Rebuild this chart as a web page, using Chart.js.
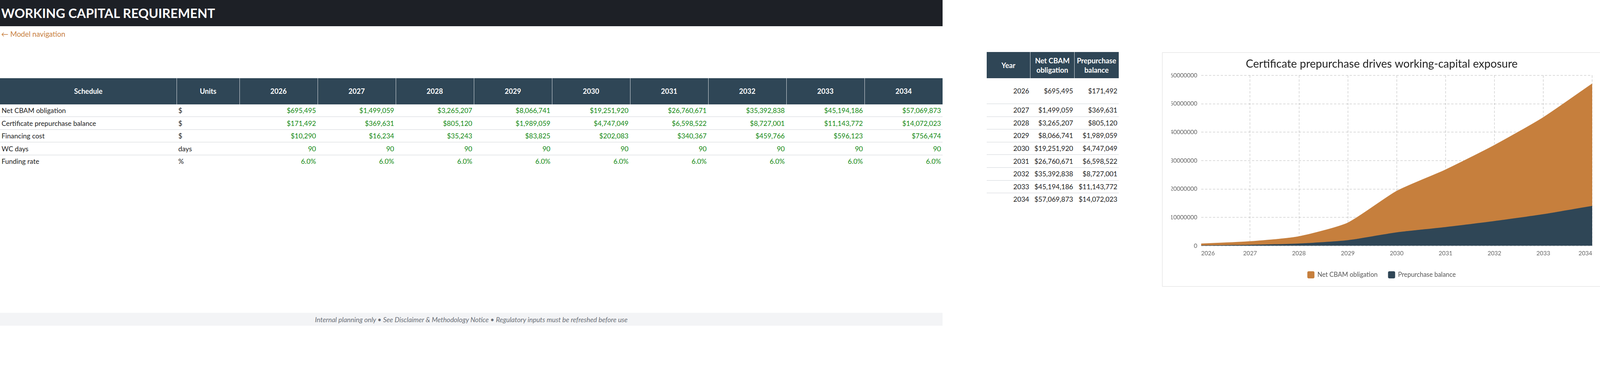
<!DOCTYPE html>
<html>
<head>
<meta charset="utf-8">
<title>Working capital requirement</title>
<script src="https://cdn.jsdelivr.net/npm/chart.js@4.4.1/dist/chart.umd.min.js"></script>
<style>
  html, body { margin: 0; padding: 0; background: #fff; }
  body { width: 4100px; height: 833px; position: relative; overflow: hidden; font-family: Lato, "Noto Sans", sans-serif; color: #222; }
  #left { position: absolute; left: 0; top: 0; width: 2413px; height: 833px; }
  #topbar { height: 66.7px; background: #1d2026; color: #fff; font-weight: 700; font-size: 33px; line-height: 66.7px; padding-left: 3px; }
  #nav { position: absolute; left: 3px; top: 76px; font-size: 18.5px; color: #c8803e; }
  table { border-collapse: collapse; table-layout: fixed; }
  #schedule { position: absolute; left: 0; top: 200px; width: 2413px; font-size: 17.5px; }
  #schedule th { height: 66.7px; background: #2f4656; color: #fff; font-weight: 700; font-size: 18px; text-align: center; padding: 0; border-left: 1.7px solid #d8dce0; }
  #schedule th:first-child { border-left: none; }
  #schedule td { height: 31.6px; padding: 0 4px; border-bottom: 1.7px solid #cfd3d8; white-space: nowrap; }
  #schedule tr:last-child td { border-bottom: none; }
  #schedule td.num { text-align: right; color: #138a13; }
  #footer { position: absolute; left: 0; top: 800px; width: 2413px; height: 33px; background: #f3f4f6; color: #6b7078; font-style: italic; font-size: 17.4px; text-align: center; line-height: 36px; }
  #summary { position: absolute; left: 2526px; top: 133.3px; width: 337.5px; font-size: 17.5px; }
  #summary th { height: 66.7px; background: #2f4656; color: #fff; font-weight: 700; font-size: 18.3px; line-height: 24px; text-align: center; padding: 0; border-left: 1.7px solid #d8dce0; }
  #summary th:first-child { border-left: none; }
  #summary td { height: 31.6px; padding: 0 3px; text-align: right; border-bottom: 1.7px solid #cfd3d8; color: #222; white-space: nowrap; }
  #summary tr.first td { height: 65px; }
  #summary tr:last-child td { border-bottom: none; }
  #panel { position: absolute; left: 2975px; top: 133.5px; width: 1121px; height: 597px; border: 1px solid #dcdcdc; background: #fff; }
  #chartBox { position: absolute; left: 0; top: 0; width: 1121px; height: 597px; }
</style>
</head>
<body>
<div id="left">
  <div id="topbar">WORKING CAPITAL REQUIREMENT</div>
  <div id="nav">&larr; Model navigation</div>
  <table id="schedule"><colgroup id="scheduleCols"></colgroup><thead></thead><tbody></tbody></table>
  <div id="footer">Internal planning only &bull; See Disclaimer &amp; Methodology Notice &bull; Regulatory inputs must be refreshed before use</div>
</div>

<table id="summary">
  <colgroup><col style="width:111.7px"><col style="width:112.5px"><col style="width:113.3px"></colgroup>
  <thead><tr><th>Year</th><th>Net CBAM<br>obligation</th><th>Prepurchase<br>balance</th></tr></thead>
  <tbody></tbody>
</table>

<div id="panel"><div id="chartBox"><canvas id="wcChart"></canvas></div></div>

<script>
// --------------- data -----------------------
const years = ['2026', '2027', '2028', '2029', '2030', '2031', '2032', '2033', '2034'];
const netCbam = [695495, 1499059, 3265207, 8066741, 19251920, 26760671, 35392838, 45194186, 57069873];
const prepurchase = [171492, 369631, 805120, 1989059, 4747049, 6598522, 8727001, 11143772, 14072023];
const financingCost = [10290, 16234, 35243, 83825, 202083, 340367, 459766, 596123, 756474];
const wcDays = [90, 90, 90, 90, 90, 90, 90, 90, 90];
const fundingRate = [0.06, 0.06, 0.06, 0.06, 0.06, 0.06, 0.06, 0.06, 0.06];
const yTicks = [0, 10000000, 20000000, 30000000, 40000000, 50000000, 60000000];

const chartTitle = 'Certificate prepurchase drives working-capital exposure';
const seriesNames = ['Net CBAM obligation', 'Prepurchase balance'];

const orange = '#c67f3d';
const slate = '#2f4656';

const money = v => '$' + v.toLocaleString('en-US');
const pct = v => (v * 100).toFixed(1) + '%';

// --------------- schedule table -----------------------
const scheduleRows = [
    ['Net CBAM obligation', '$', netCbam, money],
    ['Certificate prepurchase balance', '$', prepurchase, money],
    ['Financing cost', '$', financingCost, money],
    ['WC days', 'days', wcDays, v => String(v)],
    ['Funding rate', '%', fundingRate, pct]
];

let cols = '<col style="width:452.5px"><col style="width:160.5px">';
let head = '<tr><th>Schedule</th><th>Units</th>';
for (let y of years) {
    cols += '<col style="width:200px">';
    head += '<th>' + y + '</th>';
}
document.getElementById('scheduleCols').innerHTML = cols;
document.querySelector('#schedule thead').innerHTML = head + '</tr>';

let body = '';
for (let row of scheduleRows) {
    body += '<tr><td>' + row[0] + '</td><td>' + row[1] + '</td>';
    for (let v of row[2]) {
        body += '<td class="num">' + row[3](v) + '</td>';
    }
    body += '</tr>';
}
document.querySelector('#schedule tbody').innerHTML = body;

// --------------- summary table -----------------------
let sum = '';
years.forEach((y, i) => {
    sum += '<tr' + (i === 0 ? ' class="first"' : '') + '><td>' + y + '</td><td>' +
        money(netCbam[i]) + '</td><td>' + money(prepurchase[i]) + '</td></tr>';
});
document.querySelector('#summary tbody').innerHTML = sum;

// --------------- chart -----------------------
Chart.defaults.font.family = 'Lato';
Chart.defaults.color = '#666';

const gridColor = 'rgba(0,0,0,0.18)';

const ctx = document.getElementById('wcChart').getContext('2d');
const wcChart = new Chart(ctx, {
    type: 'line',
    data: {
        labels: years,
        datasets: [{
            label: seriesNames[0],
            data: netCbam,
            borderColor: orange,
            backgroundColor: orange,
            borderWidth: 1.5,
            pointRadius: 0,
            tension: 0.2,
            fill: '+1'
        }, {
            label: seriesNames[1],
            data: prepurchase,
            borderColor: slate,
            backgroundColor: slate,
            borderWidth: 1.5,
            pointRadius: 0,
            tension: 0.2,
            fill: 'origin'
        }]
    },
    options: {
        responsive: true,
        maintainAspectRatio: false,
        animation: false,
        layout: { padding: { top: 10, left: 22.3, right: 21, bottom: 10.8 } },
        plugins: {
            title: {
                display: true,
                text: chartTitle,
                color: '#222',
                font: { size: 28.5, weight: 'normal' },
                padding: { top: 1.7, bottom: 12.1 }
            },
            legend: {
                position: 'bottom',
                labels: {
                    color: '#555',
                    font: { size: 16.4 },
                    boxWidth: 16.7,
                    boxHeight: 16.7,
                    padding: 27.5,
                    useBorderRadius: true,
                    borderRadius: 3
                }
            },
            tooltip: { enabled: false }
        },
        scales: {
            x: {
                grid: {
                    color: c => c.index === 0 ? 'rgba(0,0,0,0)' : gridColor,
                    lineWidth: 1.5,
                    drawTicks: false
                },
                border: { display: false, dash: [6, 4] },
                ticks: { font: { size: 15.1 }, color: '#666', padding: 10.1, align: 'inner', maxRotation: 0 }
            },
            y: {
                min: 0,
                max: 60000000,
                afterBuildTicks: axis => { axis.ticks = yTicks.map(v => ({ value: v })); },
                afterFit: axis => { axis.width = 76.7; },
                grid: { color: gridColor, lineWidth: 1.5, drawTicks: false },
                border: { display: false, dash: [6, 4] },
                ticks: { font: { size: 15.1 }, color: '#666', padding: 10, callback: v => String(v) }
            }
        }
    }
});
</script>
</body>
</html>
